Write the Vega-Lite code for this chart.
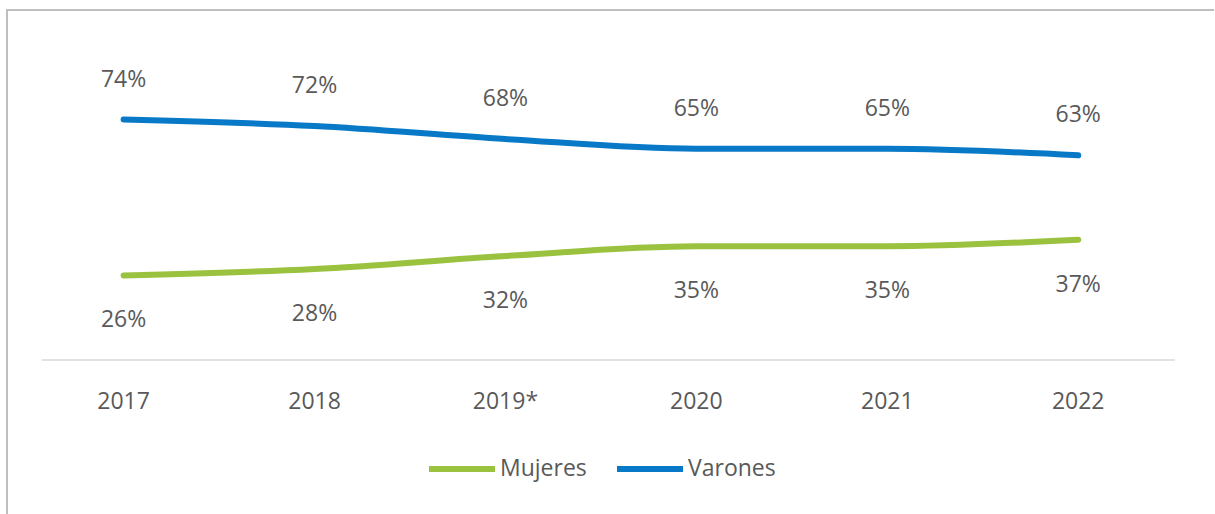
{
  "$schema": "https://vega.github.io/schema/vega-lite/v6.json",
  "width": 1207,
  "height": 504,
  "autosize": {"type": "none"},
  "padding": {"left": 7, "top": 10, "right": 1, "bottom": 0},
  "background": "white",
  "config": {
    "view": {"stroke": "#BFBFBF", "strokeWidth": 2, "strokeDash": [1207, 1711, 504]},
    "font": "Open Sans"
  },
  "data": {
    "values": [
      {"year": "2017", "serie": "Mujeres", "value": 0.26},
      {"year": "2018", "serie": "Mujeres", "value": 0.28},
      {"year": "2019*", "serie": "Mujeres", "value": 0.32},
      {"year": "2020", "serie": "Mujeres", "value": 0.35},
      {"year": "2021", "serie": "Mujeres", "value": 0.35},
      {"year": "2022", "serie": "Mujeres", "value": 0.37},
      {"year": "2017", "serie": "Varones", "value": 0.74},
      {"year": "2018", "serie": "Varones", "value": 0.72},
      {"year": "2019*", "serie": "Varones", "value": 0.68},
      {"year": "2020", "serie": "Varones", "value": 0.65},
      {"year": "2021", "serie": "Varones", "value": 0.65},
      {"year": "2022", "serie": "Varones", "value": 0.63}
    ]
  },
  "layer": [
    {
      "mark": {"type": "line", "strokeWidth": 6, "strokeCap": "round", "interpolate": "monotone"},
      "encoding": {
        "x": {
          "field": "year", "type": "ordinal",
          "scale": {"type": "band", "domain": ["2017", "2018", "2019*", "2020", "2021", "2022"], "paddingInner": 0, "paddingOuter": 0.161, "align": 0.344},
          "axis": {"orient": "bottom", "offset": -106, "domain": false, "ticks": false, "grid": false, "title": null, "labelPadding": 0, "labelBaseline": "alphabetic", "labelFontSize": 23, "labelColor": "#595959", "labelFont": "Open Sans", "labelAngle": 0}
        },
        "y": {"field": "value", "type": "quantitative", "scale": {"domain": [-0.474, 1.077], "nice": false, "zero": false}, "axis": null},
        "color": {
          "field": "serie", "type": "nominal",
          "scale": {"domain": ["Mujeres", "Varones"], "range": ["#9AC23E", "#0779C7"]},
          "legend": {"orient": "none", "legendX": 419, "legendY": 423, "direction": "horizontal", "title": null, "symbolType": "stroke", "symbolSize": 4356, "symbolStrokeWidth": 6, "labelFontSize": 23, "labelColor": "#595959", "labelFont": "Open Sans", "columnPadding": 18, "labelOffset": 2, "padding": 0}
        }
      }
    },
    {
      "transform": [{"filter": "datum.serie == 'Varones'"}],
      "mark": {"type": "text", "dy": -40, "baseline": "middle", "fontSize": 23, "color": "#595959", "font": "Open Sans"},
      "encoding": {
        "x": {"field": "year", "type": "ordinal"},
        "y": {"field": "value", "type": "quantitative"},
        "text": {"field": "value", "type": "quantitative", "format": ".0%"}
      }
    },
    {
      "transform": [{"filter": "datum.serie == 'Mujeres'"}],
      "mark": {"type": "text", "dy": 45, "baseline": "middle", "fontSize": 23, "color": "#595959", "font": "Open Sans"},
      "encoding": {
        "x": {"field": "year", "type": "ordinal"},
        "y": {"field": "value", "type": "quantitative"},
        "text": {"field": "value", "type": "quantitative", "format": ".0%"}
      }
    },
    {
      "transform": [{"filter": "datum.serie == 'Mujeres' && datum.year == '2020'"}],
      "mark": {"type": "tick", "orient": "horizontal", "size": 1133, "thickness": 1.5, "color": "#D9D9D9", "opacity": 1, "xOffset": -88},
      "encoding": {
        "x": {"field": "year", "type": "ordinal"},
        "y": {"datum": 0, "type": "quantitative"}
      }
    }
  ]
}
